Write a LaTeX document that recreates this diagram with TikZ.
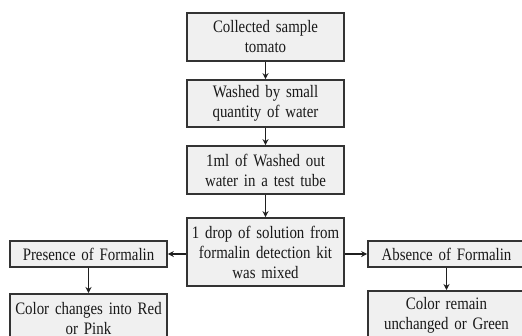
\documentclass[tikz,border=0pt]{standalone}
\usepackage{fontspec}
\setmainfont{Liberation Serif}[FakeStretch=0.85]
\usetikzlibrary{arrows.meta}
\newcommand{\boxfont}{\fontsize{17.5}{20}\selectfont\spaceskip=2.6pt plus 1pt minus 0.5pt\relax}
\begin{document}
\begin{tikzpicture}[x=1pt,y=-1pt,
  box/.style={draw=black!80,line width=1.6pt,fill=black!6,minimum width=157pt,text width=152pt,align=center,inner sep=0pt,font=\boxfont,text=black!90},
  arr/.style={-{Stealth[length=6pt,width=6pt]},line width=1.2pt,black!88}]
\clip (0,0) rectangle (522,335);
\useasboundingbox (0,0) rectangle (522,335);
\fill[white] (0,0) rectangle (522,335);
\node[box,minimum height=48pt] (b1) at (265.5,37) {Collected sample\\tomato};
\node[box,minimum height=47pt] (b2) at (265.5,103.5) {Washed by small\\quantity of water};
\node[box,minimum height=48pt] (b3) at (265.5,170) {1ml of Washed out\\water in a test tube};
\node[box,minimum height=68pt] (b4) at (265.5,252) {1 drop of solution from\\formalin detection kit\\was mixed};
\node[box,minimum height=26pt] (p) at (88.5,254) {Presence of Formalin};
\node[box,minimum height=26pt] (a) at (446.5,254) {Absence of Formalin};
\node[box,minimum height=50pt,anchor=north] (pc) at (88.5,293) {Color changes into Red\\or Pink\\[10pt]};
\node[box,minimum height=50pt,anchor=north] (ac) at (446.5,290) {Color remain\\unchanged or Green\\[10pt]};
\draw[arr] (b1) -- (b2);
\draw[arr] (b2) -- (b3);
\draw[arr] (b3) -- (b4);
\draw[arr] (b4.west |- p) -- (p.east);
\draw[arr] (b4.east |- a) -- (a.west);
\draw[arr] (p.south -| pc) -- (pc.north);
\draw[arr] (a.south -| ac) -- (ac.north);
\end{tikzpicture}
\end{document}
